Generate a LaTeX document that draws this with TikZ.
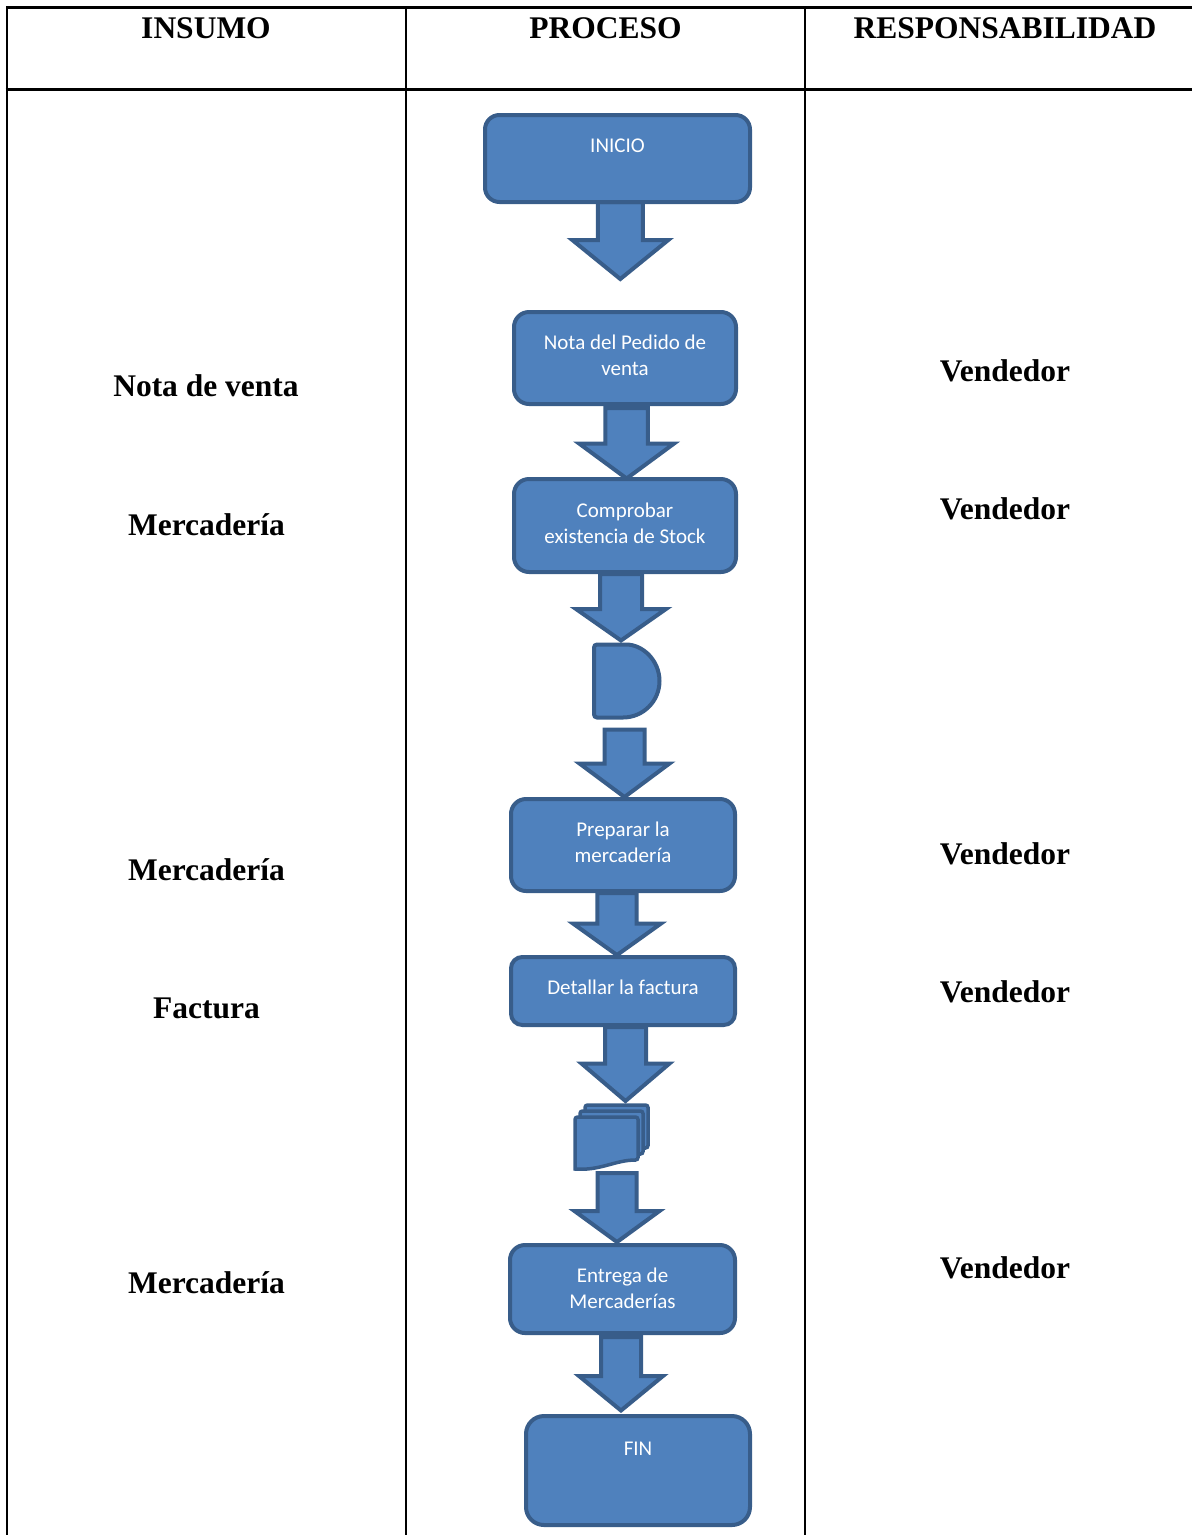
\documentclass[tikz,border=0pt]{standalone}
\usepackage{fontspec}
\setmainfont{Liberation Serif}
\newfontfamily\boxfont{Carlito}
\usetikzlibrary{calc}
\definecolor{fillblue}{HTML}{4F81BD}
\definecolor{lineblue}{HTML}{385D8A}
\pgfdeclarelayer{bg}
\pgfsetlayers{bg,main}
\tikzset{
  shp/.style={draw=lineblue, fill=fillblue, line width=4pt, line join=miter},
  pbox/.style={shp, rectangle, rounded corners=#1, inner sep=0pt, outer sep=0pt},
  pbox/.default=15pt,
  btxt/.style={font=\boxfont\fontsize{21}{26}\selectfont, text=white, align=center, anchor=base, inner sep=0pt},
  lab/.style={font=\fontsize{31.5}{38}\selectfont\bfseries, anchor=base, inner sep=0pt},
  tbl/.style={line width=2.8pt, black},
  coll/.style={line width=1.4pt, black},
  blk/.style={shp},
  holder/.style={rectangle, inner sep=0pt, outer sep=0pt},
}
% #1 from node, #2 to node, #3 start gap, #4 end gap, #5 shaft half width,
% #6 head half width, #7 head length, #8 centre x
\newcommand{\blkarrow}[8]{%
  \draw[blk] let \p1=(#1.south), \p2=(#2.north) in
    ({#8pt-#5pt},{\y1-#3pt}) -- ({#8pt-#5pt},{\y2+#4pt+#7pt}) --
    ({#8pt-#6pt},{\y2+#4pt+#7pt}) -- ({#8pt},{\y2+#4pt}) --
    ({#8pt+#6pt},{\y2+#4pt+#7pt}) -- ({#8pt+#5pt},{\y2+#4pt+#7pt}) --
    ({#8pt+#5pt},{\y1-#3pt}) -- cycle;}
\begin{document}
\begin{tikzpicture}[x=1pt,y=1pt]
\useasboundingbox (0,0) rectangle (1192,-1535);

% table
\draw[tbl] (7,-1535) -- (7,-7.5) -- (1192,-7.5);
\draw[tbl] (5.6,-89.5) -- (1192,-89.5);
\draw[coll] (406,-7.5) -- (406,-1535);
\draw[coll] (805,-7.5) -- (805,-1535);

% headers
\node[lab] (h1) at (206,-38) {INSUMO};
\node[lab] (h2) at (605.5,-38) {PROCESO};
\node[lab] (h3) at (1005,-38) {RESPONSABILIDAD};

% insumo column
\node[lab] (i1) at (206,-396) {Nota de venta};
\node[lab] (i2) at (206.5,-535) {Mercadería};
\node[lab] (i3) at (206.5,-880) {Mercadería};
\node[lab] (i4) at (206.5,-1018) {Factura};
\node[lab] (i5) at (206.5,-1293) {Mercadería};

% responsabilidad column
\node[lab] (r1) at (1005,-381) {Vendedor};
\node[lab] (r2) at (1005,-519) {Vendedor};
\node[lab] (r3) at (1005,-864) {Vendedor};
\node[lab] (r4) at (1005,-1002) {Vendedor};
\node[lab] (r5) at (1005,-1278) {Vendedor};

% process boxes
\node[pbox=14.5pt, minimum width=265pt, minimum height=87pt] (ini) at (617.5,-158.5) {};
\node[btxt] (tini) at (617.5,-152.5) {INICIO};

\node[pbox=15pt, minimum width=222pt, minimum height=92pt] (nota) at (625,-358) {};
\node[btxt] (tnota) at (625,-375) {Nota del Pedido de\\venta};

\node[pbox=15pt, minimum width=222pt, minimum height=93pt] (comp) at (625,-525.5) {};
\node[btxt] (tcomp) at (625,-543) {Comprobar\\existencia de Stock};

\node[holder, minimum width=65.5pt, minimum height=73pt] (delay) at (626.75,-681) {};
\draw[shp, rounded corners=3pt] (delay.north west) -- ($(delay.north east)+(-36.5pt,0)$)
  [sharp corners] arc[start angle=90, end angle=-90, radius=36.5pt]
  [rounded corners=3pt] -- (delay.south west) -- cycle;

\node[pbox=15pt, minimum width=224pt, minimum height=92pt] (prep) at (623,-845) {};
\node[btxt] (tprep) at (623,-862) {Preparar la\\mercadería};

\node[pbox=11.3pt, minimum width=224pt, minimum height=68pt] (det) at (623,-991) {};
\node[btxt] (tdet) at (623,-994) {Detallar la factura};

\node[holder, minimum width=73pt, minimum height=64pt] (docs) at (611.5,-1137) {};
\foreach \dx/\dy in {10/-12, 5/-6, 0/0} {
  \draw[shp, line width=3.5pt, rounded corners=2.5pt]
    (575+\dx,-1117-\dy) -- (638+\dx,-1117-\dy) -- (638+\dx,-1160-\dy)
    [sharp corners] .. controls (615+\dx,-1160-\dy) and (600+\dx,-1171-\dy) .. (575+\dx,-1169-\dy)
    [rounded corners=2.5pt] -- cycle;
}

\node[pbox=15pt, minimum width=225pt, minimum height=88pt] (ent) at (622.5,-1289) {};
\node[btxt] (tent) at (622.5,-1308) {Entrega de\\Mercaderías};

\node[pbox=18pt, minimum width=224pt, minimum height=109pt] (fin) at (638,-1470.5) {};
\node[btxt] (tfin) at (638,-1455) {FIN};

% block arrows
\begin{pgfonlayer}{bg}
\blkarrow{ini}{nota}{0}{33}{22.5}{48}{39}{620.3}
\blkarrow{nota}{comp}{4}{0.5}{21.25}{47.5}{35}{626.6}
\blkarrow{comp}{delay}{2}{4}{21}{45}{31.5}{621}
\blkarrow{delay}{prep}{12}{2}{20}{45}{33.5}{624.5}
\blkarrow{prep}{det}{2}{2}{19.7}{44}{31.5}{617}
\blkarrow{det}{docs}{2}{4}{20.5}{44}{37.5}{625.5}
\blkarrow{docs}{ent}{4}{3}{19.5}{42.5}{31}{617}
\blkarrow{ent}{fin}{4}{5.5}{20}{42}{34.5}{621}
\end{pgfonlayer}
\end{tikzpicture}
\end{document}
